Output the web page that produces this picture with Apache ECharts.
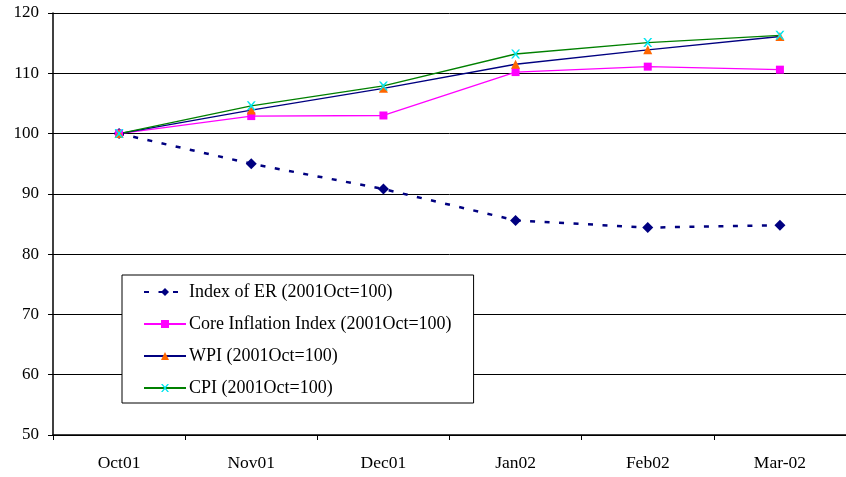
<!DOCTYPE html>
<html><head><meta charset="utf-8">
<script src="https://cdn.jsdelivr.net/npm/echarts@6/dist/echarts.min.js"></script>
<style>html,body{margin:0;padding:0;background:#fff}#c{width:846px;height:477px}</style>
</head><body><div id="c"></div>
<script>
var categories = ['Oct01','Nov01','Dec01','Jan02','Feb02','Mar-02'];
var erIndex = [100, 95.0, 90.8, 85.6, 84.4, 84.8];
var coreInflation = [100, 102.9, 103.0, 110.2, 111.1, 110.6];
var wpi = [100, 103.9, 107.5, 111.5, 113.9, 116.1];
var cpi = [100, 104.6, 107.9, 113.2, 115.1, 116.3];
var yTicks = {min: 50, max: 120, interval: 10};
var seriesNames = ['Index of ER (2001Oct=100)','Core Inflation Index (2001Oct=100)','WPI (2001Oct=100)','CPI (2001Oct=100)'];

var font = '"Liberation Serif","Times New Roman",serif';
var xPath = 'path://M0,0 L2,0 L5,3.5 L8,0 L10,0 L6,5 L10,10 L8,10 L5,6.5 L2,10 L0,10 L4,5 Z';
var chart = echarts.init(document.getElementById('c'), null, {renderer:'canvas'});
chart.setOption({
  animation: false,
  backgroundColor: '#fff',
  grid: {left: 53, right: -3, top: 13, bottom: 42, containLabel: false},
  xAxis: {
    type: 'category', data: categories, boundaryGap: true,
    axisLine: {lineStyle: {color: '#000', width: 1.5}},
    axisTick: {show: true, length: 5, lineStyle: {color: '#000'}},
    axisLabel: {color: '#000', fontFamily: font, fontSize: 17.5, margin: 19}
  },
  yAxis: {
    type: 'value', min: yTicks.min, max: yTicks.max, interval: yTicks.interval,
    axisLine: {show: true, lineStyle: {color: '#000', width: 1.5}},
    axisTick: {show: true, length: 5, lineStyle: {color: '#000'}},
    axisLabel: {color: '#000', fontFamily: font, fontSize: 17, margin: 14},
    splitLine: {show: true, lineStyle: {color: '#000', width: 1}}
  },
  legend: {
    orient: 'vertical', left: 122, top: 275,
    backgroundColor: '#fff', borderColor: '#000', borderWidth: 1,
    padding: [8, 22, 6, 21],
    itemWidth: 42, itemHeight: 10, itemGap: 14,
    textStyle: {color: '#000', fontFamily: font, fontSize: 18, lineHeight: 18, padding: [0,0,0,-2]},
    data: seriesNames
  },
  series: [
    {name: seriesNames[0], type: 'line', data: erIndex, symbol: 'diamond', symbolSize: 11,
     lineStyle: {color: '#000080', width: 2.5, type: [5, 9.5]}, itemStyle: {color: '#000080'}},
    {name: seriesNames[1], type: 'line', data: coreInflation, symbol: 'rect', symbolSize: 8,
     lineStyle: {color: '#FF00FF', width: 1.3}, itemStyle: {color: '#FF00FF'}},
    {name: seriesNames[2], type: 'line', data: wpi, symbol: 'triangle', symbolSize: 9,
     lineStyle: {color: '#000080', width: 1.3}, itemStyle: {color: '#FF6600'}},
    {name: seriesNames[3], type: 'line', data: cpi, symbol: xPath, symbolSize: 9,
     lineStyle: {color: '#008000', width: 1.3}, itemStyle: {color: '#00E5EE'}}
  ]
});
</script></body></html>
